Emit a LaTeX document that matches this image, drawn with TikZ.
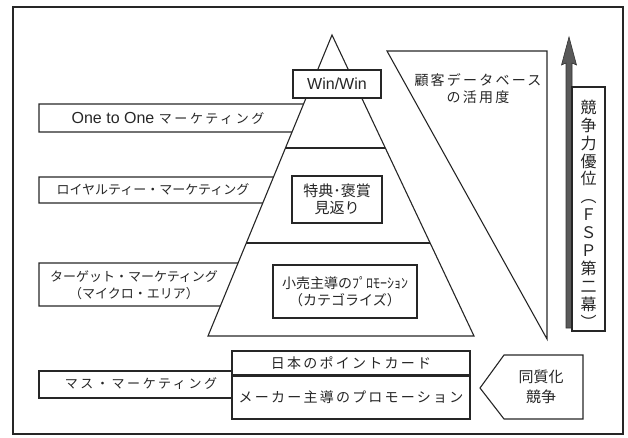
\documentclass[tikz,border=0pt]{standalone}
\usepackage{fontspec}
\setmainfont{Noto Sans CJK JP}
\newfontfamily\lat{Liberation Sans}
\newfontfamily\jpw[LetterSpace=20]{Noto Sans CJK JP}
\newfontfamily\jpx[LetterSpace=16]{Noto Sans CJK JP}
\usetikzlibrary{calc}
\begin{document}
\begin{tikzpicture}[x=1pt,y=-1pt,line width=1.1pt,
  every node/.style={text=black!85,inner sep=0pt},
  ln/.style={draw=black!85,line width=1.1pt},
  box/.style={draw=black!85,fill=white,line width=1.1pt,inner sep=0pt,align=center}]
\useasboundingbox (0,0) rectangle (628,438);
% outer frame
\draw[ln] (13,7) rectangle (623,434);
% pyramid
\coordinate (A) at (332,35);
\coordinate (BL) at (208,336);
\coordinate (BR) at (474,336);
\draw[ln] (A) -- (BL) -- (BR) -- cycle;
\draw[ln] ($(A)!0.3754!(BL)$) -- ($(A)!0.3754!(BR)$);
\draw[ln] ($(A)!0.6910!(BL)$) -- ($(A)!0.6910!(BR)$);
% left boxes
\draw[ln] ($(A)!0.2292!(BL)$) -- (39,104) -- (39,132) -- ($(A)!0.3223!(BL)$);
\draw[ln] ($(A)!0.4718!(BL)$) -- (39,177) -- (39,203) -- ($(A)!0.5581!(BL)$);
\draw[ln] ($(A)!0.7575!(BL)$) -- (39,263) -- (39,306) -- ($(A)!0.9003!(BL)$);
\draw[ln] (232,371) -- (39,371) -- (39,398) -- (232,398);
\node (oto) at (168,118) {{\lat\fontsize{16}{18}\selectfont One to One }{\jpw\fontsize{13}{16}\selectfont マーケティング}};
\node (roy) at (153,190) {\fontsize{13}{16}\selectfont ロイヤルティー・マーケティング};
\node[align=center,font=\fontsize{13}{17}\selectfont] (tgt) at (134,285.5) {ターゲット・マーケティング\\（マイクロ・エリア）};
\node (mass) at (141,384) {\jpw\fontsize{13}{16}\selectfont マス・マーケティング};
% pyramid boxes
\node[box,minimum width=88,minimum height=28,font=\lat\fontsize{16}{18}\selectfont] (win) at (337,84) {Win/Win};
\node[box,minimum width=90,minimum height=47,font=\fontsize{15}{17}\selectfont] (tok) at (337,199.5) {特典･褒賞\\見返り};
\node[box,minimum width=144,minimum height=53,font=\fontsize{14}{17}\selectfont] (kou) at (345,291.5) {小売主導のﾌﾟﾛﾓｰｼｮﾝ\\（カテゴライズ）};
% point card / maker
\node[box,minimum width=238,minimum height=24,font=\jpx\fontsize{14}{16}\selectfont] (pc) at (351,363) {日本のポイントカード};
\node[box,minimum width=238,minimum height=44,font=\jpx\fontsize{14}{16}\selectfont] (mk) at (351,397) {メーカー主導のプロモーション};
\draw[draw=black!85,line width=2.6pt] (pc.south west) -- (pc.south east);
% database triangle
\draw[ln] (387,51) -- (547,51) -- (547,339) -- cycle;
\node[align=center,font=\jpx\fontsize{14}{17}\selectfont] (db) at (478,88.5) {顧客データベース\\の活用度};
% arrow
\fill[black!65,draw=black!80,line width=0.6pt] (569,37) -- (576.5,65) -- (572,63) -- (572,328) -- (566,328) -- (566,63) -- (561.5,65) -- cycle;
% vertical box
\node[box,minimum width=33,minimum height=244] (vbox) at (588.5,209) {};
\node[align=center,font=\fontsize{16}{17.9}\selectfont] (vt) at (588.5,214) {競\\争\\力\\優\\位\\︵\\Ｆ\\Ｓ\\Ｐ\\第\\二\\幕\\︶};
% pentagon
\draw[ln] (480,388) -- (504,355) -- (583,355) -- (583,419) -- (504,419) -- cycle;
\node[align=center,font=\fontsize{15}{20}\selectfont] (hom) at (541,387) {同質化\\競争};
\end{tikzpicture}
\end{document}
